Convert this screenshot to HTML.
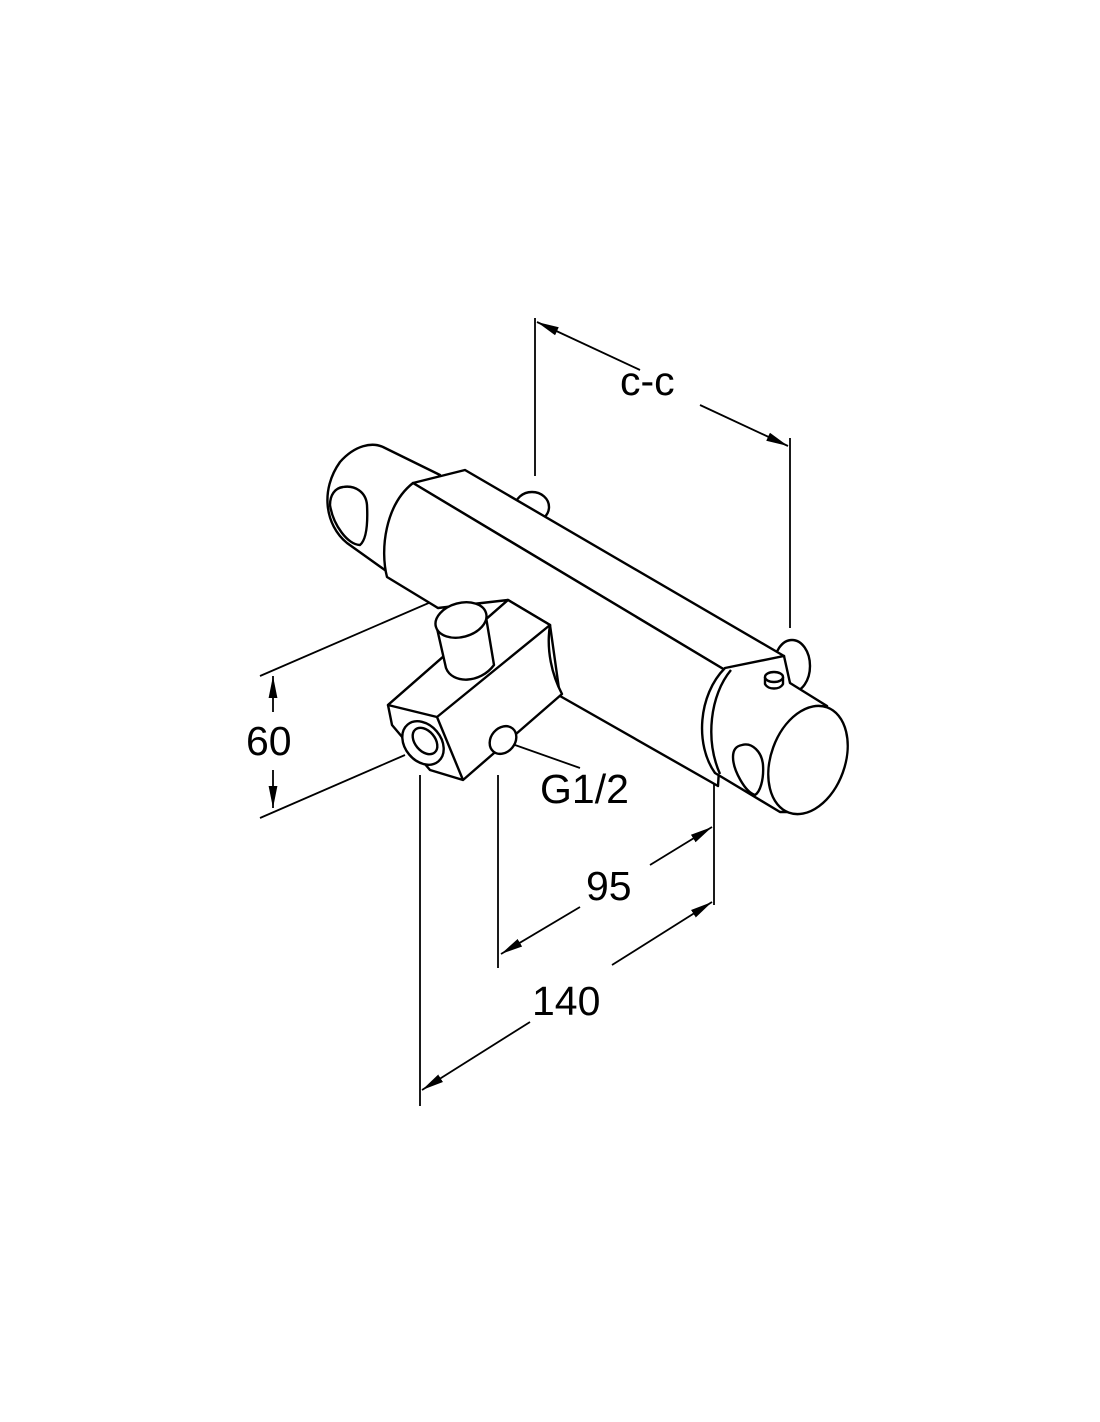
<!DOCTYPE html>
<html><head><meta charset="utf-8"><style>
html,body{margin:0;padding:0;background:#fff;}
svg{display:block}
text{font-family:"Liberation Sans",sans-serif;fill:#000}
</style></head><body>
<svg width="1100" height="1422" viewBox="0 0 1100 1422" xmlns="http://www.w3.org/2000/svg">
<defs>
<marker id="b" viewBox="0 0 20 10" refX="20" refY="5" markerWidth="22" markerHeight="11" markerUnits="userSpaceOnUse" orient="auto-start-reverse"><path d="M0,1 L20,5 L0,9 z" fill="#000"/></marker></defs>
<g fill="none" stroke="#000" stroke-width="1.8">
<line x1="535" y1="318" x2="535" y2="476"/>
<line x1="790" y1="438" x2="790" y2="628"/>
<line x1="640" y1="370" x2="537" y2="322" marker-end="url(#b)"/>
<line x1="700" y1="405" x2="788" y2="446" marker-end="url(#b)"/>
<line x1="260" y1="676" x2="528" y2="560"/>
<line x1="260" y1="818" x2="405" y2="755"/>
<line x1="273" y1="712" x2="273" y2="676" marker-end="url(#b)"/>
<line x1="273" y1="770" x2="273" y2="808" marker-end="url(#b)"/>
<line x1="515" y1="745" x2="580" y2="768"/>
<line x1="498" y1="775" x2="498" y2="968"/>
<line x1="714" y1="783" x2="714" y2="905"/>
<line x1="580" y1="907" x2="501" y2="954" marker-end="url(#b)"/>
<line x1="650" y1="865" x2="712" y2="827" marker-end="url(#b)"/>
<line x1="420" y1="775" x2="420" y2="1106"/>
<line x1="530" y1="1022" x2="422" y2="1090" marker-end="url(#b)"/>
<line x1="612" y1="965" x2="712" y2="902" marker-end="url(#b)"/>
</g>
<g fill="#fff" stroke="#000" stroke-width="2.4" stroke-linejoin="round">
<ellipse cx="532" cy="507" rx="17" ry="15"/>
<ellipse cx="792" cy="666" rx="18" ry="26"/>
<path d="M383,447 L440,475 L438,608 L347,543 C325,525 320,490 340,462 C355,445 372,442 383,447 Z"/>
<path d="M343,487 C355,485 366,492 367,505 C368,525 366,540 360,545 C348,545 333,525 330,505 C330,495 335,488 343,487 Z"/>
<path d="M465,470 L784,656 L725,670 L413,483 Z"/>
<path d="M413,483 L725,670 L718,786 L560,696 L550,625 L508,600 L438,608 L387,577 C380,550 385,505 413,483 Z"/>
<path d="M388,705 L508,600 L550,625 C546,650 552,675 562,694 L463,780 L430,770 L392,725 Z"/>
<path d="M388,705 L508,600 L550,625 L437,717 Z"/>
<line x1="437" y1="717" x2="463" y2="780"/>
<ellipse cx="503" cy="740" rx="12" ry="15" transform="rotate(40 503 740)"/>
<ellipse cx="423" cy="743" rx="18" ry="24" transform="rotate(-40 423 743)"/>
<ellipse cx="425" cy="741" rx="10" ry="15" transform="rotate(-40 425 741)"/>
<path d="M436,624 L446,668 C452,684 480,684 494,665 L486,617 Z"/>
<ellipse cx="461" cy="620" rx="26" ry="17" transform="rotate(-15 461 620)"/>
<path d="M725,668 L784,656 L790,683 L827,706 L790,812 L780,812 L715,773 C695,745 698,695 725,668 Z"/>
<path d="M731,670 C710,695 705,740 720,774"/>
<ellipse cx="808" cy="760" rx="37" ry="56" transform="rotate(20 808 760)"/>
<path d="M742,745 C752,742 762,752 763,765 C764,780 760,792 755,795 C745,792 733,770 733,757 C733,750 736,746 742,745 Z"/>
<path d="M765,677 L765,684 C768,690 780,690 783,684 L783,677"/>
<ellipse cx="774" cy="677" rx="9" ry="5"/>
</g>
<g font-size="41">
<text x="620" y="395">c-c</text>
<text x="246" y="755">60</text>
<text x="540" y="803">G1/2</text>
<text x="586" y="900">95</text>
<text x="532" y="1015">140</text>
</g>
</svg>
</body></html>
